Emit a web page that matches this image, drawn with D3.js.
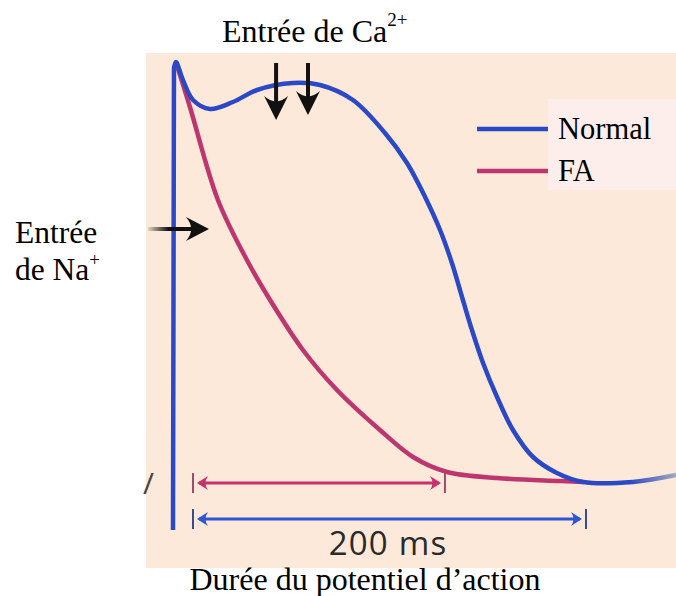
<!DOCTYPE html>
<html lang="fr">
  <head>
    <meta charset="UTF-8" />
    <title>Potentiel d'action</title>
    <script src="https://cdn.jsdelivr.net/npm/d3@7"></script>
    <style>
      body { margin: 0; background: #fff; }
      svg { display: block; }
    </style>
  </head>
  <body>
    <div id="chart"></div>
    <script>
      // time (ms) and membrane potential (mV)
      let normalT = [0, 0.5, 1.5, 5.1, 10.3, 19.0, 30.8, 43.2, 61.7, 75.6, 92.5, 109.0, 120.3, 129.6, 137.3, 143.4, 148.6, 153.7, 159.4, 166.6, 174.8, 185.1, 197.4, 210.8, 236.5, 258.6];
      let normalV = [-97, 18.5, 20, 15.5, 10.5, 8.25, 10, 13, 14.75, 14.25, 10.5, 2.25, -5.25, -13.75, -22, -30.25, -38.75, -47, -55.25, -63.75, -72, -78.75, -82.75, -85, -85, -83.25];

      let faT = [1.5, 8.7, 23.1, 38.0, 49.9, 66.8, 84.3, 106.4, 123.4, 140.9, 166.6, 199.0, 210.8];
      let faV = [20, 8.75, -14.5, -29.5, -39.5, -52, -62, -72, -78.75, -82.5, -84, -84.75, -85];

      let seriesNames = ["Normal", "FA"];

      // Ca2+ entry arrows (time, tip in mV)
      let caArrowT = [53, 69.4];
      let caArrowTo = [5.5, 6.75];
      // Na+ entry arrow
      let naArrowV = -21.75;
      let naArrowFrom = -12.9;
      let naArrowTo = 18.5;

      // action potential durations
      let durStart = 11.3;
      let durEnd = [211.3, 138.8]; // Normal, FA
      let durLevel = [-94.25, -85.25];

      let width = 676;
      let height = 596;
      let blue = "#2b48c6";
      let red = "#bd3670";

      let svg = d3
        .select("#chart")
        .append("svg")
        .attr("width", width)
        .attr("height", height);

      let x = d3.scaleLinear().domain([0, 200]).range([173, 173 + 389]);
      let y = d3.scaleLinear().domain([-85, 20]).range([482, 62]);

      let defs = svg.append("defs");
      let grad = defs
        .append("linearGradient")
        .attr("id", "fadeBlue")
        .attr("gradientUnits", "userSpaceOnUse")
        .attr("x1", 630)
        .attr("x2", 676)
        .attr("y1", 0)
        .attr("y2", 0);
      grad.append("stop").attr("offset", 0).attr("stop-color", blue);
      grad.append("stop").attr("offset", 1).attr("stop-color", "#a3a8bd");

      let naGrad = defs
        .append("linearGradient")
        .attr("id", "fadeBlack")
        .attr("x1", 0)
        .attr("x2", 1);
      naGrad.append("stop").attr("offset", 0).attr("stop-color", "#111").attr("stop-opacity", 0.1);
      naGrad.append("stop").attr("offset", 0.4).attr("stop-color", "#111").attr("stop-opacity", 1);

      // peach panel
      svg
        .append("rect")
        .attr("x", 146)
        .attr("y", 53)
        .attr("width", width - 146)
        .attr("height", 515)
        .attr("fill", "#fce9d9");

      // legend
      let legX = 477;
      let legY = [129, 171];
      svg
        .append("rect")
        .attr("x", 548)
        .attr("y", 99)
        .attr("width", width - 548)
        .attr("height", 91)
        .attr("fill", "#fdeeec");

      svg
        .selectAll(".legline")
        .data(seriesNames)
        .enter()
        .append("line")
        .attr("x1", legX)
        .attr("x2", 548)
        .attr("y1", (d, i) => legY[i])
        .attr("y2", (d, i) => legY[i])
        .attr("stroke", (d, i) => (i === 0 ? blue : red))
        .attr("stroke-width", 4.5);

      svg
        .selectAll(".legtext")
        .data(seriesNames)
        .enter()
        .append("text")
        .attr("x", 558)
        .attr("y", (d, i) => legY[i] + 10)
        .attr("font-family", "Liberation Serif")
        .attr("font-size", 30.5)
        .attr("fill", "#000")
        .text((d) => d);

      // curves
      let smooth = d3
        .line()
        .x((d) => x(d[0]))
        .y((d) => y(d[1]))
        .curve(d3.curveCatmullRom.alpha(0.5));

      let faData = faT.map((t, i) => [t, faV[i]]);
      let normalData = normalT.map((t, i) => [t, normalV[i]]);

      svg
        .append("path")
        .attr("d", smooth(faData))
        .attr("fill", "none")
        .attr("stroke", red)
        .attr("stroke-width", 4.5);

      // upstroke is a straight segment, the rest is smoothed
      let upstroke = d3.line().x((d) => x(d[0])).y((d) => y(d[1]))(normalData.slice(0, 2));
      let rest = smooth(normalData.slice(1)).replace(/^M/, "L");
      svg
        .append("path")
        .attr("d", upstroke + rest)
        .attr("fill", "none")
        .attr("stroke", "url(#fadeBlue)")
        .attr("stroke-width", 4.5)
        .attr("stroke-linejoin", "round");

      // arrow head: swept chevron, tip at origin, pointing right
      function headPath(len, half) {
        return `M0,0 L${-len},${-half} Q${-len * 0.55},0 ${-len},${half} Z`;
      }

      // Ca arrows
      let ca = svg.append("g").attr("class", "ca-arrows");
      caArrowT.forEach(function (t, i) {
        ca.append("line")
          .attr("x1", x(t))
          .attr("x2", x(t))
          .attr("y1", y(20) + 1)
          .attr("y2", y(caArrowTo[i]) - 10)
          .attr("stroke", "#111")
          .attr("stroke-width", 4);
        ca.append("path")
          .attr("d", headPath(24, 12))
          .attr("transform", `translate(${x(t)},${y(caArrowTo[i])}) rotate(90)`)
          .attr("fill", "#111");
      });

      // Na arrow
      svg
        .append("rect")
        .attr("x", x(naArrowFrom))
        .attr("y", y(naArrowV) - 2)
        .attr("width", x(naArrowTo) - x(naArrowFrom) - 10)
        .attr("height", 4)
        .attr("fill", "url(#fadeBlack)");
      svg
        .append("path")
        .attr("d", headPath(23, 12))
        .attr("transform", `translate(${x(naArrowTo)},${y(naArrowV)})`)
        .attr("fill", "#111");

      // duration arrows
      let durColors = ["#2f55d6", "#c9316e"];
      durEnd.forEach(function (end, i) {
        let g = svg.append("g");
        let yy = y(durLevel[i]);
        let x0 = x(durStart);
        let x1 = x(end);
        g.append("line")
          .attr("x1", x0 + 4)
          .attr("x2", x1 - 4)
          .attr("y1", yy)
          .attr("y2", yy)
          .attr("stroke", durColors[i])
          .attr("stroke-width", 3);
        g.append("path")
          .attr("d", headPath(11, 7))
          .attr("transform", `translate(${x0 + 2},${yy}) rotate(180)`)
          .attr("fill", durColors[i]);
        g.append("path")
          .attr("d", headPath(11, 7))
          .attr("transform", `translate(${x1 - 2},${yy})`)
          .attr("fill", durColors[i]);
        [x0 - 2, x1 + 2].forEach(function (xx) {
          g.append("line")
            .attr("x1", xx)
            .attr("x2", xx)
            .attr("y1", yy - 10)
            .attr("y2", yy + 10)
            .attr("stroke", i === 0 ? "#3a4a90" : "#a04a70")
            .attr("stroke-width", 2);
        });
      });

      // cropped glyph at the left edge
      svg
        .append("text")
        .attr("x", 143)
        .attr("y", 494)
        .attr("font-family", "Open Sans")
        .attr("font-size", 30)
        .attr("fill", "#444")
        .text("/");

      svg
        .append("text")
        .attr("x", 388)
        .attr("y", 555)
        .attr("text-anchor", "middle")
        .attr("font-family", "Open Sans")
        .attr("font-size", 33)
        .attr("letter-spacing", 1.2)
        .attr("fill", "#2a2a2a")
        .text("200 ms");

      // labels
      let ser = "Liberation Serif";
      let caLabel = svg
        .append("text")
        .attr("x", 222)
        .attr("y", 42)
        .attr("font-family", ser)
        .attr("font-size", 32)
        .attr("fill", "#000");
      caLabel.append("tspan").text("Entrée de Ca");
      caLabel.append("tspan").attr("dy", -16).attr("font-size", 19).text("2+");

      svg
        .append("text")
        .attr("x", 15)
        .attr("y", 243)
        .attr("font-family", ser)
        .attr("font-size", 31.5)
        .text("Entrée");
      let naLabel = svg
        .append("text")
        .attr("x", 15)
        .attr("y", 280)
        .attr("font-family", ser)
        .attr("font-size", 31.5);
      naLabel.append("tspan").text("de Na");
      naLabel.append("tspan").attr("dy", -14).attr("font-size", 19).text("+");

      svg
        .append("text")
        .attr("x", 365)
        .attr("y", 590)
        .attr("text-anchor", "middle")
        .attr("font-family", ser)
        .attr("font-size", 32)
        .text("Durée du potentiel d’action");
    </script>
  </body>
</html>
